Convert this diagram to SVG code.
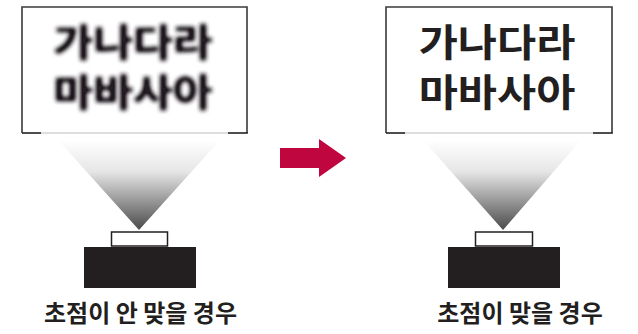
<svg xmlns="http://www.w3.org/2000/svg" width="638" height="334" viewBox="0 0 638 334">
<defs>
<linearGradient id="cone" x1="0" y1="0" x2="0" y2="1">
<stop offset="0" stop-color="#ffffff"/>
<stop offset="0.35" stop-color="#e6e6e6"/>
<stop offset="1" stop-color="#4a4a4a"/>
</linearGradient>
<filter id="blur" x="-10%" y="-20%" width="120%" height="140%">
<feGaussianBlur stdDeviation="1.9"/>
<feComponentTransfer><feFuncA type="linear" slope="1.3"/></feComponentTransfer>
</filter>
</defs>
<style>
.screen{fill:#fff;stroke:none}
.side{stroke:#3a3a3a;stroke-width:1.6;fill:none}
.base{stroke:#bdbdbd;stroke-width:1.2}
.corner{stroke:#222;stroke-width:1.6}
.big{font-family:"Noto Sans CJK KR","Noto Sans",sans-serif;font-size:38px;font-weight:700;fill:#231f20;text-anchor:middle}
.lbl{font-family:"Noto Sans CJK KR","Noto Sans",sans-serif;font-size:24px;font-weight:700;fill:#231f20;text-anchor:middle}
.lens{fill:#fff;stroke:#231f20;stroke-width:1.5}
.body{fill:#231f20}
</style>
<rect width="638" height="334" fill="#fff"/>
<g id="screen-blur">
<rect class="screen" x="22" y="7" width="225" height="126"/>
<path class="side" d="M22,133 V7 H247 V133"/>
<line class="base" x1="41" y1="133" x2="228" y2="133"/>
<line class="corner" x1="22" y1="133" x2="41" y2="133"/>
<line class="corner" x1="228" y1="133" x2="247.8" y2="133"/>
<g filter="url(#blur)">
<text class="big" transform="translate(133,56) scale(1.14,1)">가나다라</text>
<text class="big" transform="translate(133,106) scale(1.14,1)">마바사아</text>
</g>
</g>
<g id="projector-blur">
<polygon points="58,140 220,140 139,230" fill="url(#cone)"/>
<rect class="lens" x="111.5" y="232" width="56" height="14"/>
<rect class="body" x="84" y="247" width="112" height="41"/>
<text class="lbl" x="140.5" y="322">초점이 안 맞을 경우</text>
</g>
<g id="screen-sharp">
<rect class="screen" x="386" y="7" width="226" height="126"/>
<path class="side" d="M386,133 V7 H612 V133"/>
<line class="base" x1="405" y1="133" x2="593" y2="133"/>
<line class="corner" x1="386" y1="133" x2="405" y2="133"/>
<line class="corner" x1="593" y1="133" x2="612.8" y2="133"/>
<text class="big" transform="translate(497,56) scale(1.12,1)">가나다라</text>
<text class="big" transform="translate(497,106) scale(1.12,1)">마바사아</text>
</g>
<g id="projector-sharp">
<polygon points="423,140 581,140 503,230" fill="url(#cone)"/>
<rect class="lens" x="475.5" y="232" width="57" height="14"/>
<rect class="body" x="448" y="247" width="112" height="41"/>
<text class="lbl" x="520" y="322">초점이 맞을 경우</text>
</g>
<g id="connectors">
<polygon points="280,148 319,148 319,139 346,158 319,177 319,168 280,168" fill="#c0063f"/>
</g>
</svg>
